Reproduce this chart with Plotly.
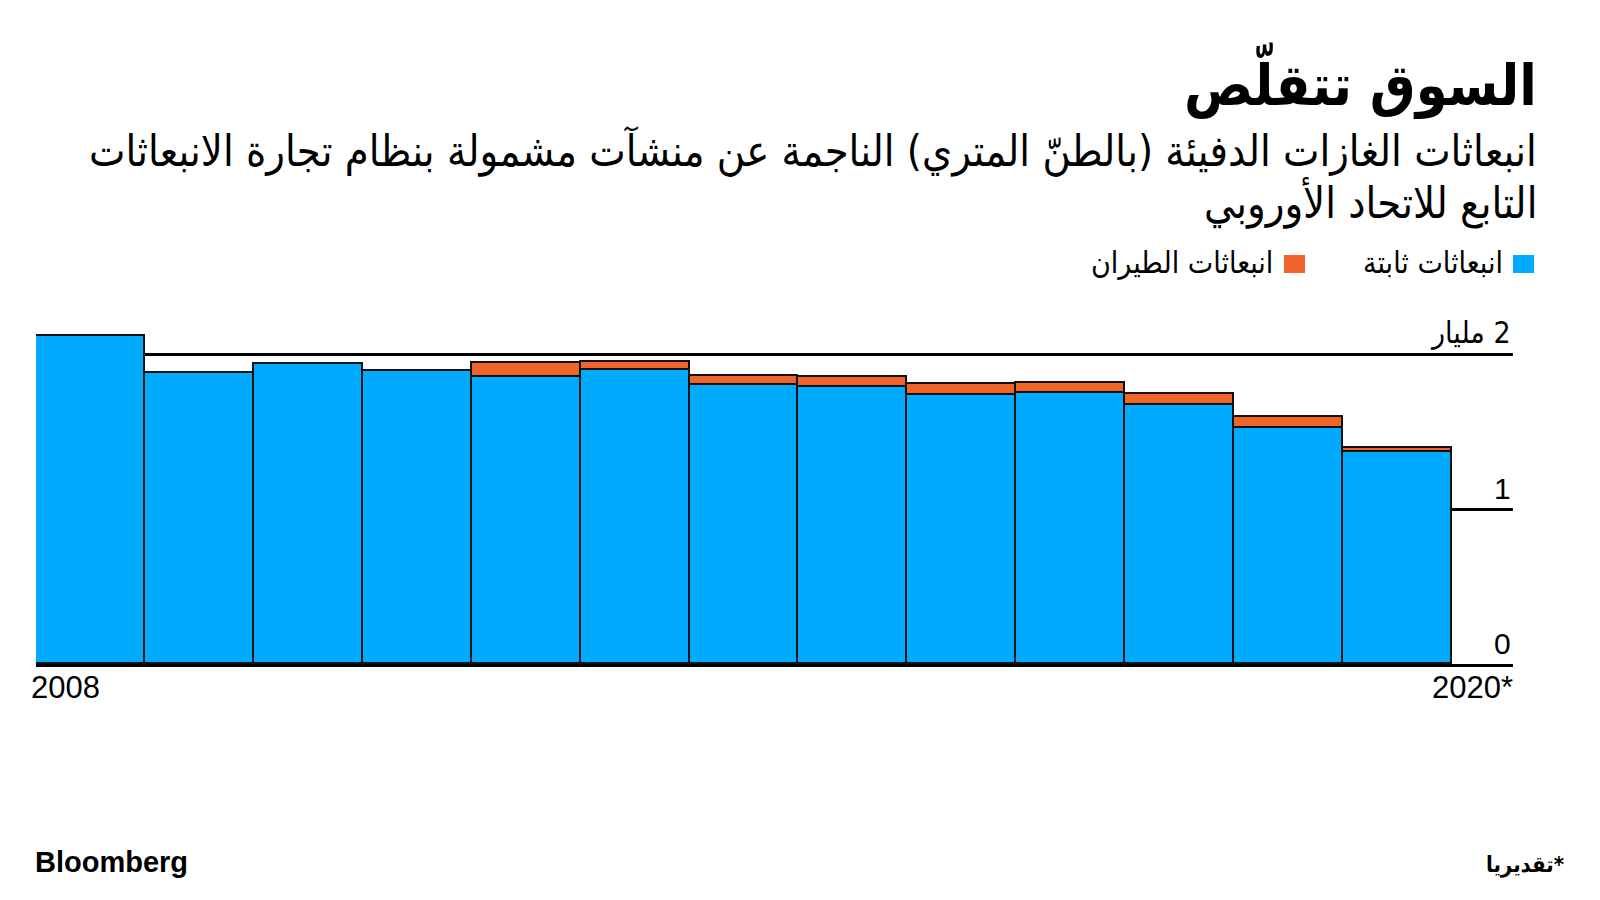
import plotly.graph_objects as go

years = ["2008", "2009", "2010", "2011", "2012", "2013", "2014",
         "2015", "2016", "2017", "2018", "2019", "2020*"]
stationary = [2.116, 1.875, 1.933, 1.892, 1.854, 1.897, 1.800,
              1.789, 1.735, 1.746, 1.671, 1.525, 1.366]
aviation = [None, None, None, None, 0.086, 0.054, 0.058,
            0.065, 0.069, 0.069, 0.071, 0.071, 0.026]
y_ticks = [0, 1, 2]
y_tick_labels = ["0", "1", "\u200f2 مليار"]
x_end_labels = ["2008", "2020*"]
series_names = ["انبعاثات ثابتة", "انبعاثات الطيران"]
title_text = "السوق تتقلّص"
subtitle_lines = ["انبعاثات الغازات الدفيئة (بالطنّ المتري) الناجمة عن منشآت مشمولة بنظام تجارة الانبعاثات",
                  "التابع للاتحاد الأوروبي"]
footnote = "تقديريا*"
source = "Bloomberg"

BLUE = "#00AAFF"
ORANGE = "#F0642A"
AR_FONT = "DejaVu Sans Condensed, DejaVu Sans, sans-serif"
LAT_FONT = "Liberation Sans, Arial, sans-serif"

W, H = 1600, 900
PX0, PX1 = 36, 1513      # plot area left/right in pixels
PY0, PY1 = 323, 664      # plot area top/bottom in pixels


def px_x(p):
    return (p - PX0) / (PX1 - PX0)


def px_y(p):
    return (PY1 - p) / (PY1 - PY0)


xs = list(range(len(years)))

fig = go.Figure()
fig.add_trace(go.Bar(x=xs, y=stationary, name=series_names[0],
                     marker=dict(color=BLUE, line=dict(color="#111111", width=1.6))))
fig.add_trace(go.Bar(x=xs, y=aviation, name=series_names[1],
                     marker=dict(color=ORANGE, line=dict(color="#111111", width=1.6))))

annotations = []
# Title & subtitle
annotations.append(dict(text="<b>" + title_text + "</b>", x=px_x(1539), y=px_y(80),
                        xref="paper", yref="paper", xanchor="right", yanchor="middle",
                        showarrow=False, font=dict(family=AR_FONT, size=57, color="#000000")))
for line, cy in zip(subtitle_lines, [151, 202]):
    annotations.append(dict(text=line, x=px_x(1539), y=px_y(cy),
                            xref="paper", yref="paper", xanchor="right", yanchor="middle",
                            showarrow=False, font=dict(family=AR_FONT, size=43, color="#000000")))

# Custom legend (square on the right of text, RTL style)
shapes = []
leg = [(series_names[0], BLUE, 1513, 1505), (series_names[1], ORANGE, 1284, 1275)]
for name, col, sq_x, txt_right in leg:
    shapes.append(dict(type="rect", xref="paper", yref="paper",
                       x0=px_x(sq_x), x1=px_x(sq_x + 21), y0=px_y(273), y1=px_y(255),
                       fillcolor=col, line=dict(width=0)))
    annotations.append(dict(text=name, x=px_x(txt_right), y=px_y(262),
                            xref="paper", yref="paper", xanchor="right", yanchor="middle",
                            showarrow=False, font=dict(family=AR_FONT, size=30, color="#000000")))

# Y tick labels above gridlines, right aligned
for v, lab in zip(y_ticks, y_tick_labels):
    annotations.append(dict(text=lab, x=1.0, y=v, xref="paper", yref="y",
                            xanchor="right", yanchor="bottom", yshift=2,
                            showarrow=False,
                            font=dict(family=LAT_FONT if v != 2 else AR_FONT, size=30, color="#000000")))

# X end labels
annotations.append(dict(text=x_end_labels[0], x=-0.5, y=px_y(687), xref="x", yref="paper",
                        xanchor="left", yanchor="middle", xshift=-7, showarrow=False,
                        font=dict(family=LAT_FONT, size=31, color="#000000")))
annotations.append(dict(text=x_end_labels[1], x=1.0, y=px_y(687), xref="paper", yref="paper",
                        xanchor="right", yanchor="middle", xshift=2, showarrow=False,
                        font=dict(family=LAT_FONT, size=31, color="#000000")))

# Footer
annotations.append(dict(text="<b>" + source + "</b>", x=px_x(33), y=px_y(862),
                        xref="paper", yref="paper", xanchor="left", yanchor="middle",
                        showarrow=False, font=dict(family=LAT_FONT, size=29, color="#000000")))
annotations.append(dict(text="<b>" + footnote + "</b>", x=px_x(1566), y=px_y(865),
                        xref="paper", yref="paper", xanchor="right", yanchor="middle",
                        showarrow=False, font=dict(family=AR_FONT, size=22, color="#000000")))

fig.update_layout(
    width=W, height=H,
    margin=dict(l=PX0, r=W - PX1, t=PY0, b=H - PY1, pad=0),
    paper_bgcolor="white", plot_bgcolor="white",
    barmode="stack", bargap=0,
    showlegend=False,
    xaxis=dict(range=[-0.5, 12.5 + (PX1 - 1452) / ((1452 - 36) / 13)],
               showgrid=False, zeroline=False, showticklabels=False, ticks="",
               showline=True, linecolor="#000000", linewidth=3, fixedrange=True),
    yaxis=dict(range=[0, 2.2], tickvals=y_ticks, showticklabels=False, ticks="",
               showgrid=True, gridcolor="#000000", gridwidth=2.5, zeroline=False,
               showline=False, fixedrange=True),
    annotations=annotations,
    shapes=shapes,
)

fig.write_html("out.html")
